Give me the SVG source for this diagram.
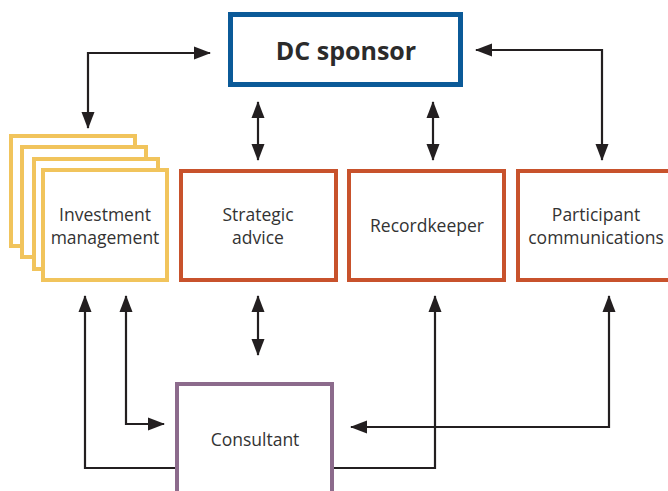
<svg xmlns="http://www.w3.org/2000/svg" width="668" height="491" viewBox="0 0 668 491">
<style>
.lbl{font-family:"Open Sans","Noto Sans",sans-serif;font-size:17.5px;fill:#333333;text-anchor:middle}
.title{font-family:"Open Sans","Noto Sans",sans-serif;font-size:25px;font-weight:bold;fill:#2b2b2b;text-anchor:middle}
.ylw{fill:#ffffff;stroke:#f1c45c;stroke-width:4}
.org{fill:#ffffff;stroke:#c8522c;stroke-width:4}
.blu{fill:#ffffff;stroke:#0b5a98;stroke-width:5}
.pur{fill:#ffffff;stroke:#8c6b8c;stroke-width:4}
.con{fill:none;stroke:#231f20;stroke-width:2.2}
</style>
<defs>
<marker id="ah" markerUnits="userSpaceOnUse" markerWidth="18" markerHeight="14" refX="16" refY="6.5" orient="auto-start-reverse" viewBox="0 0 18 13">
<path d="M0,0 L17,6.5 L0,13 z" fill="#231f20"/>
</marker>
</defs>
<rect width="668" height="491" fill="#ffffff"/>
<g id="dc-sponsor">
<rect class="blu" x="230.5" y="14.5" width="230" height="70"/>
<text class="title" x="346" y="60">DC sponsor</text>
</g>
<g id="investment-management">
<rect class="ylw" x="11" y="136" width="124" height="110"/>
<rect class="ylw" x="22" y="147" width="124" height="110"/>
<rect class="ylw" x="34" y="159" width="124" height="110"/>
<rect class="ylw" x="43" y="170" width="124" height="110"/>
<text class="lbl" x="105" y="221">Investment</text>
<text class="lbl" x="105" y="244">management</text>
</g>
<g id="strategic-advice">
<rect class="org" x="181" y="171" width="155" height="109"/>
<text class="lbl" x="258" y="221">Strategic</text>
<text class="lbl" x="258" y="244">advice</text>
</g>
<g id="recordkeeper">
<rect class="org" x="349" y="171" width="155" height="109"/>
<text class="lbl" x="427" y="232">Recordkeeper</text>
</g>
<g id="participant-communications">
<rect class="org" x="518" y="171" width="160" height="109"/>
<text class="lbl" x="596" y="221">Participant</text>
<text class="lbl" x="596" y="244">communications</text>
</g>
<g id="consultant">
<rect class="pur" x="177" y="384" width="155" height="130"/>
<text class="lbl" x="255" y="446">Consultant</text>
</g>
<g id="connectors">
<path class="con" d="M210,53 H88 V128" marker-start="url(#ah)" marker-end="url(#ah)"/>
<path class="con" d="M476,50 H602 V160" marker-start="url(#ah)" marker-end="url(#ah)"/>
<path class="con" d="M258,102 V160" marker-start="url(#ah)" marker-end="url(#ah)"/>
<path class="con" d="M433,102 V160" marker-start="url(#ah)" marker-end="url(#ah)"/>
<path class="con" d="M258,296 V355" marker-start="url(#ah)" marker-end="url(#ah)"/>
<path class="con" d="M175,468 H85 V296" marker-end="url(#ah)"/>
<path class="con" d="M164,424 H126 V296" marker-start="url(#ah)" marker-end="url(#ah)"/>
<path class="con" d="M334,468 H435 V296" marker-end="url(#ah)"/>
<path class="con" d="M351,427 H609 V296" marker-start="url(#ah)" marker-end="url(#ah)"/>
</g>
</svg>
